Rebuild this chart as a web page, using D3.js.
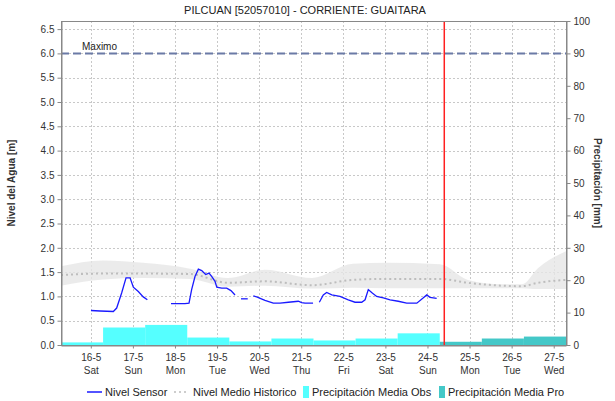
<!DOCTYPE html>
<html><head><meta charset="utf-8">
<script src="https://cdn.jsdelivr.net/npm/d3@7"></script>
<style>body{margin:0;background:#fff;}svg{display:block;font-family:"Liberation Sans",Arial,sans-serif;}</style>
</head><body>
<svg id="c" width="615" height="401"></svg>
<script>
const title = "PILCUAN [52057010] - CORRIENTE: GUAITARA";
const leftTicks = [0,0.5,1,1.5,2,2.5,3,3.5,4,4.5,5,5.5,6,6.5];
const rightTicks = [0,10,20,30,40,50,60,70,80,90,100];
const dayTicks = ["2020-05-16","2020-05-17","2020-05-18","2020-05-19","2020-05-20","2020-05-21","2020-05-22","2020-05-23","2020-05-24","2020-05-25","2020-05-26","2020-05-27"];
const dayNames = ["Sat","Sun","Mon","Tue","Wed","Thu","Fri","Sat","Sun","Mon","Tue","Wed"];
const maxLevel = 6.0;
const nowTime = "2020-05-24T09:35";

// Nivel Sensor, segments separated by gaps
const sensorSegments = [
  [["2020-05-16T00:05",0.71],["2020-05-16T05:15",0.70],["2020-05-16T12:50",0.69],["2020-05-16T14:45",0.76],["2020-05-16T17:35",1.07],["2020-05-16T20:05",1.38],["2020-05-16T22:25",1.38],["2020-05-17T00:15",1.19],["2020-05-17T03:05",1.10],["2020-05-17T05:55",0.99],["2020-05-17T08:15",0.93]],
  [["2020-05-17T21:45",0.85],["2020-05-18T05:40",0.85],["2020-05-18T08:00",0.86],["2020-05-18T09:30",1.14],["2020-05-18T11:25",1.41],["2020-05-18T13:20",1.56],["2020-05-18T15:15",1.53],["2020-05-18T17:30",1.45],["2020-05-18T19:25",1.48],["2020-05-18T20:55",1.41],["2020-05-18T22:50",1.31],["2020-05-18T23:50",1.19],["2020-05-19T02:40",1.17],["2020-05-19T05:30",1.17],["2020-05-19T07:55",1.12],["2020-05-19T10:15",1.03]],
  [["2020-05-19T13:40",0.95],["2020-05-19T17:30",0.95]],
  [["2020-05-19T20:40",1.01],["2020-05-19T22:35",0.99],["2020-05-20T03:20",0.92],["2020-05-20T08:05",0.86],["2020-05-20T11:55",0.86],["2020-05-20T16:40",0.88],["2020-05-20T22:20",0.90],["2020-05-21T00:15",0.87],["2020-05-21T02:10",0.86],["2020-05-21T06:45",0.86]],
  [["2020-05-21T10:20",0.88],["2020-05-21T12:35",1.03],["2020-05-21T14:30",1.08],["2020-05-21T17:25",1.03],["2020-05-21T22:05",1.00],["2020-05-22T02:50",0.93],["2020-05-22T06:40",0.88],["2020-05-22T10:30",0.88],["2020-05-22T12:25",0.93],["2020-05-22T14:15",1.14],["2020-05-22T16:10",1.08],["2020-05-22T19:00",1.00],["2020-05-22T22:50",0.97],["2020-05-23T02:40",0.93],["2020-05-23T07:20",0.90],["2020-05-23T12:10",0.86],["2020-05-23T17:55",0.86],["2020-05-23T21:40",0.97],["2020-05-23T23:35",1.03],["2020-05-24T01:25",0.98],["2020-05-24T05:15",0.96]]
];

// Nivel Medio Historico and its band
const histTimes = ["2020-05-15T07:00","2020-05-16T07:00","2020-05-17T05:45","2020-05-18T08:35","2020-05-19T06:15","2020-05-20T03:20","2020-05-21T06:10","2020-05-22T05:30","2020-05-23T00:55","2020-05-24T07:05","2020-05-24T23:05","2020-05-25T18:30","2020-05-26T05:55","2020-05-26T15:00","2020-05-27T07:00"];
const histMean = [1.44,1.47,1.47,1.46,1.28,1.31,1.23,1.34,1.36,1.36,1.28,1.22,1.21,1.28,1.34];
const histMax  = [1.62,1.74,1.69,1.57,1.38,1.55,1.38,1.67,1.69,1.66,1.34,1.25,1.25,1.58,1.93];
const histMin  = [1.22,1.35,1.38,1.36,1.20,1.22,1.16,1.18,1.17,1.17,1.17,1.17,1.17,1.15,1.15];

// Precipitation (7:00 to 7:00 daily)
const precipObsStart = ["2020-05-15T07:00","2020-05-16T07:00","2020-05-17T07:00","2020-05-18T07:00","2020-05-19T07:00","2020-05-20T07:00","2020-05-21T07:00","2020-05-22T07:00","2020-05-23T07:00"];
const precipObs = [0.8,5.4,6.2,2.3,1.1,2.0,1.4,2.0,3.6];
const precipProStart = ["2020-05-24T07:00","2020-05-25T07:00","2020-05-26T07:00"];
const precipPro = [1.0,2.0,2.6];

const P = d3.timeParse("%Y-%m-%dT%H:%M");
const PD = d3.timeParse("%Y-%m-%d");
const svg = d3.select("#c");
const m = {l:61, r:566, t:21, b:345};
const x = d3.scaleTime().domain([P("2020-05-15T07:00"), P("2020-05-27T07:00")]).range([m.l, m.r]);
const yL = d3.scaleLinear().domain([0, 6.0/0.9]).range([m.b, m.t]);
const yR = d3.scaleLinear().domain([0, 100]).range([m.b, m.t]);

// grid
const g = svg.append("g");
g.selectAll(".hg").data(leftTicks).join("line")
  .attr("x1", m.l).attr("x2", m.r).attr("y1", d=>Math.round(yL(d))+0.5).attr("y2", d=>Math.round(yL(d))+0.5)
  .attr("stroke", "#c8c8c8").attr("stroke-dasharray", "2,2");
g.selectAll(".vg").data(dayTicks).join("line")
  .attr("x1", d=>Math.round(x(PD(d)))+0.5).attr("x2", d=>Math.round(x(PD(d)))+0.5).attr("y1", m.t).attr("y2", m.b)
  .attr("stroke", "#c8c8c8").attr("stroke-dasharray", "2,2");

// band
const band = histTimes.map((t,i)=>({t:P(t), lo:histMin[i], hi:histMax[i], mean:histMean[i]}));
svg.append("path").datum(band)
  .attr("d", d3.area().x(d=>x(d.t)).y0(d=>yL(d.lo)).y1(d=>yL(d.hi)).curve(d3.curveMonotoneX))
  .attr("fill", "#e6e6e6").attr("opacity", 0.8);
svg.append("path").datum(band)
  .attr("d", d3.line().x(d=>x(d.t)).y(d=>yL(d.mean)).curve(d3.curveMonotoneX))
  .attr("fill", "none").attr("stroke", "#bdbdbd").attr("stroke-width", 2).attr("stroke-dasharray", "2,3");

// precipitation bars
const day = 24*3600*1000;
svg.selectAll(".po").data(precipObs).join("rect")
  .attr("x", (d,i)=>x(P(precipObsStart[i]))).attr("width", (d,i)=>x(new Date(+P(precipObsStart[i])+day))-x(P(precipObsStart[i])))
  .attr("y", d=>yR(d)).attr("height", d=>m.b-yR(d)).attr("fill", "#55ffff");
svg.selectAll(".pp").data(precipPro).join("rect")
  .attr("x", (d,i)=>x(P(precipProStart[i]))).attr("width", (d,i)=>x(new Date(+P(precipProStart[i])+day))-x(P(precipProStart[i])))
  .attr("y", d=>yR(d)).attr("height", d=>m.b-yR(d)).attr("fill", "#44c8c8");

// sensor
const sl = d3.line().x(d=>x(P(d[0]))).y(d=>yL(d[1]));
svg.selectAll(".s").data(sensorSegments).join("path")
  .attr("d", sl).attr("fill", "none").attr("stroke", "#1a1aff").attr("stroke-width", 1.3);

// maximo
svg.append("line").attr("x1", m.l).attr("x2", m.r).attr("y1", yL(maxLevel)).attr("y2", yL(maxLevel))
  .attr("stroke", "#6b7aa6").attr("stroke-width", 2).attr("stroke-dasharray", "8,4");
svg.append("text").attr("x", 82).attr("y", yL(maxLevel)-3).attr("font-size", 10).attr("fill", "#222").text("Maximo");

// now line
svg.append("line").attr("x1", x(P(nowTime))).attr("x2", x(P(nowTime))).attr("y1", m.t).attr("y2", m.b)
  .attr("stroke", "#ff2020").attr("stroke-width", 1.5);

// frame
svg.append("rect").attr("x", m.l+0.5).attr("y", m.t+0.5).attr("width", m.r-m.l).attr("height", m.b-m.t)
  .attr("fill", "none").attr("stroke", "#888");

// axes
const axL = svg.append("g").attr("transform", `translate(${m.l+0.5},0)`)
  .call(d3.axisLeft(yL).tickValues(leftTicks).tickFormat(d3.format(".1f")).tickSize(4).tickSizeOuter(0));
const axR = svg.append("g").attr("transform", `translate(${m.r+0.5},0)`)
  .call(d3.axisRight(yR).tickValues(rightTicks).tickFormat(d3.format("d")).tickSize(4).tickSizeOuter(0));
const axB = svg.append("g").attr("transform", `translate(0,${m.b+0.5})`)
  .call(d3.axisBottom(x).tickValues(dayTicks.map(PD)).tickFormat((d,i)=>dayTicks[i].slice(8,10).replace(/^0/,"")+"-"+(+dayTicks[i].slice(5,7))).tickSize(3).tickSizeOuter(0));
[axL,axR,axB].forEach(a=>{
  a.select(".domain").attr("stroke","#888");
  a.selectAll(".tick line").attr("stroke","#888");
  a.selectAll("text").attr("font-size",10).attr("fill","#333").attr("font-family","Liberation Sans, Arial, sans-serif");
});
axB.selectAll(".tick text").attr("dy", "0.9em");
axB.selectAll(".tick").append("text").attr("y", 19).attr("dy","0.9em").attr("text-anchor","middle")
  .attr("font-size",10).attr("fill","#333").text((d,i)=>dayNames[i]);

// titles
svg.append("text").attr("x", 305).attr("y", 14).attr("text-anchor","middle").attr("font-size", 11).attr("fill","#222").text(title);
svg.append("text").attr("transform", "translate(15,183) rotate(-90)").attr("text-anchor","middle").attr("font-size",10).attr("font-weight","bold").attr("fill","#333").text("Nivel del Agua [m]");
svg.append("text").attr("transform", "translate(594,183) rotate(90)").attr("text-anchor","middle").attr("font-size",10).attr("font-weight","bold").attr("fill","#333").text("Precipitación [mm]");

// legend
const ly = 392;
const lg = svg.append("g").attr("font-size", 11).attr("fill","#222");
lg.append("line").attr("x1",87).attr("x2",102).attr("y1",ly).attr("y2",ly).attr("stroke","#1a1aff").attr("stroke-width",1.5);
lg.append("text").attr("x",105).attr("y",ly+4).text("Nivel Sensor");
lg.append("line").attr("x1",174).attr("x2",189).attr("y1",ly).attr("y2",ly).attr("stroke","#bdbdbd").attr("stroke-width",1.5).attr("stroke-dasharray","2,3");
lg.append("text").attr("x",193).attr("y",ly+4).text("Nivel Medio Historico");
lg.append("rect").attr("x",303).attr("y",ly-6).attr("width",6).attr("height",12).attr("fill","#55ffff");
lg.append("text").attr("x",312).attr("y",ly+4).text("Precipitación Media Obs");
lg.append("rect").attr("x",439).attr("y",ly-6).attr("width",6).attr("height",12).attr("fill","#44c8c8");
lg.append("text").attr("x",448).attr("y",ly+4).text("Precipitación Media Pro");
</script>
</body></html>
